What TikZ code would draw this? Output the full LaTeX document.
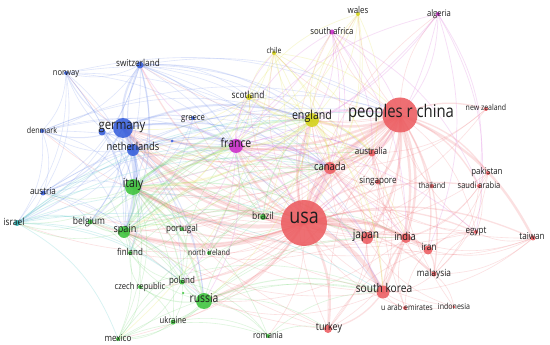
\documentclass[tikz,border=0pt]{standalone}
\usepackage{fontspec}
\setmainfont{Open Sans}[FakeStretch=0.85]
\definecolor{nR}{RGB}{236,92,96}
\definecolor{nB}{RGB}{55,95,220}
\definecolor{nG}{RGB}{60,195,60}
\definecolor{nY}{RGB}{212,212,25}
\definecolor{nM}{RGB}{205,45,205}
\definecolor{nC}{RGB}{40,175,175}
\definecolor{eR}{RGB}{240,115,120}
\definecolor{eB}{RGB}{110,140,235}
\definecolor{eG}{RGB}{100,210,100}
\definecolor{eY}{RGB}{225,225,70}
\definecolor{eM}{RGB}{215,100,215}
\definecolor{eC}{RGB}{70,195,195}
\definecolor{tx}{RGB}{30,30,30}
\pgfdeclarelayer{edges}
\pgfsetlayers{edges,main}
\newcommand\edgeset[3]{\foreach \a/\b in {#3} \draw[draw=#1, line width=#2] (\a.center) to[bend left=20] (\b.center);}
\begin{document}
\begin{tikzpicture}[x=1pt,y=-1pt,
  dot/.style={circle, inner sep=0pt, minimum size=#1, fill opacity=0.88},
  dR/.style={dot=#1, fill=nR}, dB/.style={dot=#1, fill=nB}, dG/.style={dot=#1, fill=nG},
  dY/.style={dot=#1, fill=nY}, dM/.style={dot=#1, fill=nM}, dC/.style={dot=#1, fill=nC},
  lbl/.style={font=\fontsize{#1}{#1}\selectfont, text=tx, inner sep=0pt, anchor=mid},
  edgeop/.style={draw opacity=0.22, line cap=round}]
\useasboundingbox (0,0) rectangle (550,345);
% ---------- nodes (circles) ----------
% red cluster
\node[dR=46pt] (usa) at (304,223) {};
\node[dR=35pt] (chn) at (400,115) {};
\node[dR=12pt] (can) at (330,168) {};
\node[dR=7pt]  (aus) at (372,153) {};
\node[dR=12pt] (jpn) at (367,238) {};
\node[dR=10pt] (ind) at (406,238) {};
\node[dR=9pt]  (irn) at (428,250) {};
\node[dR=13pt] (kor) at (383,292) {};
\node[dR=8pt]  (tur) at (328,329) {};
\node[dR=5pt]  (sgp) at (378,182) {};
\node[dR=4pt]  (tha) at (432,186) {};
\node[dR=4pt]  (sau) at (479,186) {};
\node[dR=4pt]  (pak) at (488,173) {};
\node[dR=4pt]  (nzl) at (486,109) {};
\node[dR=4pt]  (egy) at (476,232) {};
\node[dR=5pt]  (twn) at (533,238) {};
\node[dR=5pt]  (mys) at (434,274) {};
\node[dR=4pt]  (are) at (405,308) {};
\node[dR=3pt]  (idn) at (454,307) {};
% blue cluster
\node[dB=20pt] (deu) at (123,128) {};
\node[dB=7pt]  (bx1) at (102,132) {};
\node[dB=12pt] (nld) at (133,150) {};
\node[dB=7pt]  (che) at (140,65) {};
\node[dB=4pt]  (nor) at (66,73) {};
\node[dB=4pt]  (dnk) at (42,131) {};
\node[dB=5pt]  (aut) at (43,193) {};
\node[dB=4pt]  (grc) at (193,118) {};
\node[dB=3pt]  (bx2) at (172,141) {};
% green cluster
\node[dG=16pt] (ita) at (133,187) {};
\node[dG=12pt] (esp) at (124,232) {};
\node[dG=16pt] (rus) at (204,301) {};
\node[dG=5pt]  (bel) at (90,222) {};
\node[dG=4pt]  (prt) at (182,229) {};
\node[dG=6pt]  (bra) at (263,217) {};
\node[dG=4pt]  (fin) at (130,253) {};
\node[dG=4pt]  (nir) at (209,253) {};
\node[dG=5pt]  (pol) at (182,282) {};
\node[dG=4pt]  (cze) at (140,287) {};
\node[dG=5pt]  (ukr) at (173,322) {};
\node[dG=4pt]  (mex) at (118,339) {};
\node[dG=4pt]  (rou) at (268,336) {};
\node[dG=2.5pt] (gx1) at (183,293) {};
% cyan
\node[dC=6pt]  (isr) at (17,223) {};
% yellow cluster
\node[dY=14pt] (eng) at (312,120) {};
\node[dY=6pt]  (sco) at (249,97) {};
\node[dY=4pt]  (chl) at (274,53) {};
\node[dY=4pt]  (wal) at (358,14) {};
% magenta cluster
\node[dM=14pt] (fra) at (236,146) {};
\node[dM=5pt]  (zaf) at (332,32) {};
\node[dM=4pt]  (dza) at (438,14) {};
% ---------- labels ----------
\node[lbl=21]   (usa-l) at (304,221) {usa};
\node[lbl=17.5] (chn-l) at (401,115) {peoples r china};
\node[lbl=11]   (can-l) at (330,168) {canada};
\node[lbl=9.5]  (aus-l) at (371,152) {australia};
\node[lbl=12]   (jpn-l) at (366,236) {japan};
\node[lbl=11]   (ind-l) at (405,238) {india};
\node[lbl=10]   (irn-l) at (429,248) {iran};
\node[lbl=12]   (kor-l) at (384,290) {south korea};
\node[lbl=10.5] (tur-l) at (329,328) {turkey};
\node[lbl=9.5]  (sgp-l) at (378,181) {singapore};
\node[lbl=8.3]  (tha-l) at (432,186) {thailand};
\node[lbl=8.8]  (sau-l) at (479,186) {saudi arabia};
\node[lbl=9.3]  (pak-l) at (487,172) {pakistan};
\node[lbl=8.2]  (nzl-l) at (486,108) {new zealand};
\node[lbl=9.5]  (egy-l) at (476,231) {egypt};
\node[lbl=9.5]  (twn-l) at (532,237) {taiwan};
\node[lbl=9.8]  (mys-l) at (434,274) {malaysia};
\node[lbl=8.3]  (are-l) at (407,308) {u arab emirates};
\node[lbl=8.3]  (idn-l) at (454,307) {indonesia};
\node[lbl=13.4] (deu-l) at (122,127) {germany};
\node[lbl=11]   (nld-l) at (133,148) {netherlands};
\node[lbl=9.6]  (che-l) at (138,64) {switzerland};
\node[lbl=8.9]  (nor-l) at (66,73) {norway};
\node[lbl=8.4]  (dnk-l) at (42,131) {denmark};
\node[lbl=9.5]  (aut-l) at (43,192) {austria};
\node[lbl=9]    (grc-l) at (193,118) {greece};
\node[lbl=12.5] (ita-l) at (133,185) {italy};
\node[lbl=10.7] (esp-l) at (125,230) {spain};
\node[lbl=12.2] (rus-l) at (204,300) {russia};
\node[lbl=10]   (bel-l) at (89,222) {belgium};
\node[lbl=9.5]  (prt-l) at (182,229) {portugal};
\node[lbl=10]   (bra-l) at (263,217) {brazil};
\node[lbl=9.4]  (fin-l) at (130,253) {finland};
\node[lbl=8.1]  (nir-l) at (209,253) {north ireland};
\node[lbl=9.4]  (pol-l) at (182,281) {poland};
\node[lbl=9]    (cze-l) at (140,287) {czech republic};
\node[lbl=9]    (ukr-l) at (173,321) {ukraine};
\node[lbl=9.5]  (mex-l) at (118,339) {mexico};
\node[lbl=9]    (rou-l) at (268,336) {romania};
\node[lbl=9.8]  (isr-l) at (14,223) {israel};
\node[lbl=12.5] (eng-l) at (312,117) {england};
\node[lbl=9.8]  (sco-l) at (248,96) {scotland};
\node[lbl=8.1]  (chl-l) at (274,51) {chile};
\node[lbl=9.3]  (wal-l) at (358,11) {wales};
\node[lbl=12.3] (fra-l) at (236,145) {france};
\node[lbl=9.2]  (zaf-l) at (332,32) {south africa};
\node[lbl=9]    (dza-l) at (439,14) {algeria};
% ---------- edges ----------
\begin{pgfonlayer}{edges}
\fill[white] (0,0) rectangle (550,345);
\begin{scope}[edgeop]
% red heavy
\edgeset{eR}{4pt}{usa/chn, usa/can, usa/jpn, usa/kor, chn/aus, usa/deu, usa/ita, usa/esp}
\edgeset{eR}{2.4pt}{usa/eng, usa/fra, usa/nld, chn/eng, chn/deu, chn/can, chn/jpn, chn/kor, chn/ind, chn/sgp, chn/twn, usa/ind, usa/aus, usa/tur, usa/irn, usa/rus, chn/ita}
\edgeset{eR}{1.3pt}{chn/irn, chn/mys, chn/nzl, chn/pak, chn/sau, usa/twn, usa/bra, kor/jpn, kor/ind, jpn/ind, ind/irn, irn/mys, usa/sau, usa/egy, usa/mys, usa/sgp, chn/fra, chn/nld, chn/esp, usa/che, usa/bel, usa/prt, usa/pol, kor/tur, can/aus}
\edgeset{eR}{0.6pt}{tha/usa, tha/chn, tha/jpn, tha/aus, sau/pak, sau/egy, sau/ind, sau/mys, pak/usa, pak/mys, pak/ind, pak/irn, nzl/usa, nzl/aus, nzl/can, egy/chn, egy/ita, egy/deu, twn/jpn, twn/kor, twn/ind, twn/irn, twn/egy, twn/mys, mys/ind, mys/kor, mys/egy, mys/idn, are/usa, are/chn, are/ind, are/kor, are/irn, idn/usa, idn/chn, idn/kor, idn/jpn, tur/chn, tur/ita, tur/deu, tur/eng, tur/irn, irn/can, irn/aus, irn/egy, aus/eng, aus/deu, aus/ita, aus/jpn, aus/sgp, aus/kor, can/eng, can/fra, can/deu, can/ita, can/jpn, can/kor, can/ind, can/bra, jpn/deu, jpn/eng, jpn/fra, jpn/ita, kor/can, kor/ita, kor/deu, ind/eng, ind/deu, ind/ita, ind/can, ind/aus, sgp/usa, sgp/eng, sgp/jpn, usa/nor, usa/dnk, usa/aut, usa/isr, usa/grc, usa/fin, usa/cze, usa/ukr, usa/mex, usa/rou, usa/nir, usa/sco, usa/chl, usa/wal, usa/zaf, usa/dza, chn/che, chn/rus, chn/bra, chn/zaf, chn/dza, chn/wal, chn/sco, chn/chl, chn/tur, chn/egy, jpn/tur, kor/rus, ind/rus, ind/tur, chn/bel, chn/pol, chn/prt, jpn/esp, kor/esp, ind/fra, irn/ita, tur/esp, mys/aus, sgp/can, twn/can, egy/can}
% blue
\edgeset{eB}{2pt}{deu/nld, deu/che, deu/ita, nld/ita, deu/fra, deu/eng, deu/esp}
\edgeset{eB}{1pt}{deu/nor, deu/dnk, deu/aut, deu/grc, deu/bel, deu/isr, deu/rus, nld/che, nld/esp, nld/fra, nld/eng, nld/bel, che/ita, che/fra, che/eng, che/esp, bx1/ita, bx1/nld, bx1/esp, deu/can, nld/can}
\edgeset{eB}{0.6pt}{deu/pol, deu/fin, deu/kor, nld/nor, nld/dnk, nld/aut, nld/isr, nld/prt, nld/fin, nld/aus, nld/rus, che/nor, che/dnk, che/aut, che/can, che/isr, che/sco, che/bel, che/aus, che/jpn, che/kor, nor/dnk, nor/ita, nor/esp, nor/isr, nor/fra, nor/eng, nor/fin, nor/aut, dnk/ita, dnk/esp, dnk/aut, dnk/isr, dnk/fra, dnk/eng, aut/ita, aut/esp, aut/isr, aut/fra, aut/bel, aut/rus, aut/chn, grc/ita, grc/esp, grc/fra, grc/eng, grc/chn, bx2/ita, bx2/fra, bx2/usa, nor/chn, dnk/chn, dnk/usa, che/chn, nor/can, che/bra, dnk/can, aut/can, grc/can}
% green
\edgeset{eG}{2pt}{ita/esp, ita/rus, ita/fra, esp/fra, ita/eng}
\edgeset{eG}{1pt}{ita/bel, ita/prt, ita/bra, ita/pol, ita/can, esp/rus, esp/prt, esp/bra, esp/eng, esp/bel, rus/pol, rus/ukr, rus/cze, bra/fra, bra/eng, ita/jpn, esp/jpn, rus/kor, esp/can}
\edgeset{eG}{0.6pt}{ita/fin, ita/nir, ita/cze, ita/ukr, ita/mex, ita/rou, ita/isr, ita/aut, esp/fin, esp/pol, esp/cze, esp/mex, esp/isr, rus/mex, rus/rou, rus/fin, rus/bra, rus/jpn, rus/tur, rus/ind, bel/prt, bel/fin, bel/pol, bel/fra, bel/isr, prt/bra, prt/fin, prt/pol, pol/cze, pol/ukr, pol/fin, pol/mex, pol/rou, cze/ukr, cze/mex, cze/fin, ukr/mex, ukr/rou, mex/rou, mex/bra, bra/can, bra/ind, nir/eng, nir/can, nir/aus, rou/kor, rou/tur, gx1/rus, mex/usa, ukr/kor, fin/fra, pol/fra, prt/can, fin/can, bel/can, cze/kor, mex/kor, ita/aus, esp/aus}
% cyan
\edgeset{eC}{0.7pt}{isr/usa, isr/chn, isr/ita, isr/esp, isr/rus, isr/kor, isr/mex, isr/eng, isr/can, isr/fra, isr/bel, isr/pol}
% yellow
\edgeset{eY}{1.8pt}{eng/fra, eng/can, eng/aus, eng/sco, eng/ita}
\edgeset{eY}{0.7pt}{eng/chl, eng/wal, eng/esp, eng/nld, eng/jpn, eng/bra, eng/zaf, eng/kor, sco/chl, sco/wal, sco/fra, sco/deu, sco/ita, sco/esp, sco/aus, sco/can, chl/usa, chl/esp, chl/bra, chl/mex, chl/aus, chl/chn, chl/kor, wal/usa, wal/can, wal/aus, wal/eng, wal/ita, eng/rus, eng/ind, sco/nld, chl/can, wal/fra}
% magenta
\edgeset{eM}{1.6pt}{fra/usa, fra/chn, fra/can}
\edgeset{eM}{0.7pt}{fra/jpn, fra/aus, fra/che, fra/dza, fra/zaf, fra/sco, fra/chl, fra/rus, fra/egy, fra/kor, fra/ind, zaf/usa, zaf/chn, zaf/aus, zaf/ind, zaf/sau, zaf/can, zaf/eng, dza/usa, dza/chn, dza/sau, dza/egy, dza/irn, dza/fra, dza/ita, fra/prt, fra/pol, zaf/ita}
\end{scope}
\end{pgfonlayer}
\end{tikzpicture}
\end{document}
